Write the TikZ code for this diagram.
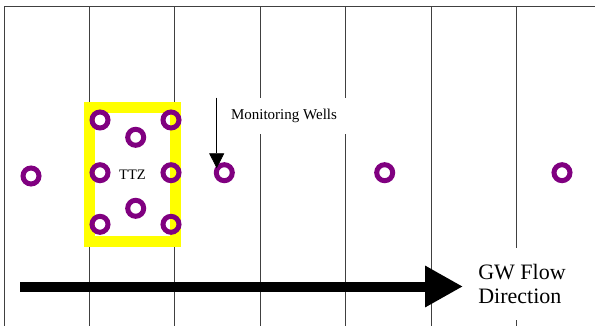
\documentclass[tikz,border=0pt]{standalone}
\usepackage{fontspec}
\setmainfont{Liberation Serif}
\usepackage{xcolor}
\usetikzlibrary{positioning}
\usetikzlibrary{arrows.meta}

\definecolor{wellpurple}{HTML}{800080}
\definecolor{ttzyellow}{HTML}{FFFF00}

\begin{document}
\begin{tikzpicture}[x=1pt, y=-1pt,
    grid/.style={draw=black!75, line width=0.8pt},
    well/.style={circle, draw=wellpurple, line width=5pt, minimum size=16pt, inner sep=0pt},
    zone/.style={draw=ttzyellow, line width=11pt, minimum width=86pt, minimum height=133.7pt, inner sep=0pt, font=\fontsize{14.5}{16}\selectfont},
    label/.style={fill=white, inner sep=0pt, align=left}
]
    \useasboundingbox (0,0) rectangle (597,326);

    % Frame and grid lines
    \draw[grid] (4.5,326) -- (4.5,6.3) -- (595,6.3);
    \foreach \x in {89,174.5,260,345.5,431,516.5}
        \draw[grid] (\x,6.3) -- (\x,326);

    % Labels
    \node[label, minimum width=124pt, minimum height=36pt, font=\fontsize{15}{17}\selectfont] (MW) at (284,116) {Monitoring Wells};
    \node[label, minimum width=96pt, minimum height=72pt, font=\fontsize{22}{24.5}\selectfont] (GW) at (522,284) {GW Flow\\Direction};

    % Treatment zone
    \node[zone] (TTZ) at (132.5,174.8) {TTZ};

    % Wells
    \node[well] (W1) at (31,176) {};
    \node[well] (W2) at (100,120) {};
    \node[well] (W3) at (171,120) {};
    \node[well] (W4) at (135.7,137.3) {};
    \node[well] (W5) at (100,172.7) {};
    \node[well] (W6) at (171,172.7) {};
    \node[well] (W7) at (135.7,208.3) {};
    \node[well] (W8) at (100,224.3) {};
    \node[well] (W9) at (171,224.3) {};
    \node[well] (W10) at (224.3,172.7) {};
    \node[well] (W11) at (384.7,172.7) {};
    \node[well] (W12) at (562,172.7) {};

    % Arrows
    \coordinate (MWtop) at (216.7,97.7);
    \coordinate (MWtip) at (216.7,168.3);
    \draw[line width=0.7pt, -{Triangle[length=15pt 0 0, width=15pt 0 0]}] (MWtop) -- (MWtip);

    \coordinate (flowstart) at (20,286.5);
    \coordinate (flowend) at (463,286.5);
    \draw[line width=10pt, -{Triangle[length=38pt 0 0, width=39pt 0 0]}] (flowstart) -- (flowend);
\end{tikzpicture}
\end{document}
